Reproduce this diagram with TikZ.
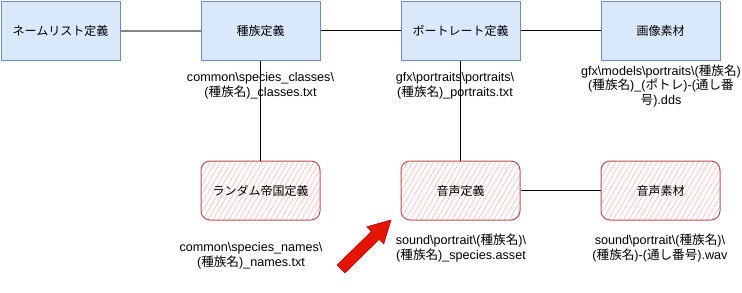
\documentclass[tikz,border=0pt]{standalone}
\usepackage{fontspec}
\setmainfont{Liberation Sans}
\newfontfamily\jpfont{Noto Sans CJK JP}
\newcommand{\jp}[1]{{\jpfont #1}}
\newcommand{\bs}{\textbackslash}
\usetikzlibrary{patterns.meta}
\definecolor{bluefill}{HTML}{DAE8FC}
\definecolor{bluestroke}{HTML}{6C8EBF}
\definecolor{redstroke}{HTML}{B85450}
\definecolor{hatch}{HTML}{F6C4C2}
\definecolor{arrowred}{HTML}{E51400}
\definecolor{arrowdark}{HTML}{B20000}
\tikzset{
  bluebox/.style={draw=bluestroke, fill=bluefill, line width=1pt, minimum width=119pt, minimum height=59pt, inner sep=0pt, font=\fontsize{12}{14}\selectfont},
  redbox/.style={draw=redstroke, line width=1pt, rounded corners=9pt, minimum width=119pt, minimum height=59pt, inner sep=0pt,
     pattern={Lines[angle=60,distance=4.5pt,line width=0.7pt]}, pattern color=hatch, font=\fontsize{12}{14}\selectfont},
  filelabel/.style={align=center, font=\fontsize{12.6}{14.5}\selectfont, inner sep=0pt},
  conn/.style={draw=black, line width=0.9pt},
}
\begin{document}
\begin{tikzpicture}[x=1pt,y=-1pt]
\useasboundingbox (0,0) rectangle (742,292);
% top row
\node[bluebox] (name) at (60.5,30.5) {\jp{ネームリスト定義}};
\node[bluebox] (spec) at (260.5,30.5) {\jp{種族定義}};
\node[bluebox] (port) at (460.5,30.5) {\jp{ポートレート定義}};
\node[bluebox] (img) at (660.5,30.5) {\jp{画像素材}};
% bottom row
\node[redbox] (rand) at (260.5,190.5) {\jp{ランダム帝国定義}};
\node[redbox] (voice) at (460.5,190.5) {\jp{音声定義}};
\node[redbox] (vmat) at (660.5,190.5) {\jp{音声素材}};
% connectors
\draw[draw=gray!95, line width=2pt] (name.east) -- (spec.west);
\draw[conn] (spec.east) -- (port.west);
\draw[conn] (port.east) -- (img.west);
\draw[conn] (spec.south) -- (rand.north);
\draw[conn] (port.south) -- (voice.north);
\draw[conn] (voice.east) -- (vmat.west);
% labels
\node[filelabel] (l1) at (260.5,85.5) {common\bs species\_classes\bs\\(\jp{種族名})\_classes.txt};
\node[filelabel] (l2) at (455,85.5) {gfx\bs portraits\bs portraits\bs\\(\jp{種族名})\_portraits.txt};
\node[filelabel] (l3) at (661,85.5) {gfx\bs models\bs portraits\bs(\jp{種族名})\\(\jp{種族名})\_(\jp{ポトレ})-(\jp{通し番}\\\jp{号}).dds};
\node[filelabel] (l4) at (251,255.5) {common\bs species\_names\bs\\(\jp{種族名})\_names.txt};
\node[filelabel] (l5) at (461,248) {sound\bs portrait\bs(\jp{種族名})\bs\\(\jp{種族名})\_species.asset};
\node[filelabel] (l6) at (660,248) {sound\bs portrait\bs(\jp{種族名})\bs\\(\jp{種族名})-(\jp{通し番号}).wav};
% red arrow
\coordinate (atip) at (391,220);
\draw[fill=arrowred, draw=arrowdark, line width=0.6pt, line join=miter]
  (atip) -- (383.7,244.0) -- (379.2,239.3) -- (344.9,272.9) -- (337.1,265.1) -- (371.4,231.5) -- (366.9,226.8) -- cycle;
\end{tikzpicture}
\end{document}
